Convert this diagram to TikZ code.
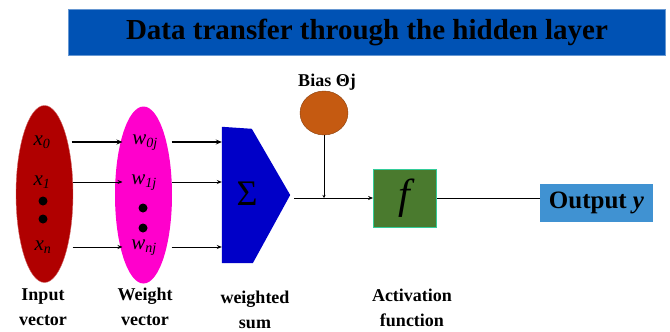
\documentclass[tikz,border=0pt]{standalone}
\usepackage{fontspec}
\setmainfont{Liberation Serif}
\usetikzlibrary{shapes.geometric,arrows.meta}
\definecolor{titleblue}{RGB}{0,82,180}
\definecolor{inred}{RGB}{176,0,0}
\definecolor{wtpink}{RGB}{255,0,204}
\definecolor{sumblue}{RGB}{0,0,200}
\definecolor{biasorange}{RGB}{197,90,17}
\definecolor{actgreen}{RGB}{74,122,46}
\definecolor{actedge}{RGB}{51,204,153}
\definecolor{outblue}{RGB}{64,146,210}
\newcommand{\sz}[1]{\fontsize{#1}{#1}\selectfont}
\newcommand{\sbs}[1]{\textsubscript{\sz{14}#1}}
\tikzset{
  caption/.style={font=\fontsize{18}{25}\selectfont\bfseries, align=center, text=black},
  vec/.style={ellipse, minimum width=57pt, minimum height=177pt, inner sep=0pt},
  entry/.style={font=\sz{21}\itshape, inner sep=0pt},
  bigdot/.style={circle, fill=black, minimum size=9pt, inner sep=0pt},
  thin arrow/.style={-{Stealth[length=5pt,width=4pt]}, line width=0.7pt},
  thick arrow/.style={-{Stealth[length=6pt,width=5pt]}, line width=2pt},
}
\begin{document}
\begin{tikzpicture}[x=1pt,y=-1pt]
\useasboundingbox (0,0) rectangle (670,332);

% title banner
\node[fill=titleblue, draw=titleblue!60!white, minimum width=597pt, minimum height=46pt, font=\sz{29}\bfseries]
  (title) at (367,32) {Data transfer through the hidden layer};

% input and weight vectors
\node[vec, fill=inred, draw=inred!60!white] (in) at (44.5,194) {};
\node[vec, fill=wtpink] (wt) at (143.5,195) {};

\node[entry] (x0) at (42,142) {x\sbs{0}};
\node[entry] (x1) at (42,182) {x\sbs{1}};
\node[bigdot] (xd1) at (43,201) {};
\node[bigdot] (xd2) at (43,219) {};
\node[entry] (xn) at (43,247) {x\sbs{n}};

\node[entry] (w0) at (145,143) {w\sbs{0j}};
\node[entry] (w1) at (144,183) {w\sbs{1j}};
\node[bigdot] (wd1) at (143,208) {};
\node[bigdot] (wd2) at (143,228) {};
\node[entry] (wn) at (144,248) {w\sbs{nj}};

% summation block
\node[minimum width=68pt, minimum height=136pt, inner sep=0pt] (sum) at (256,195) {};
\fill[sumblue] (sum.north west) -- ++(30,2) -- (sum.east) -- ([xshift=31pt]sum.south west) -- (sum.south west) -- cycle;
\node[font=\sz{36}] (sigma) at (247,194) {Σ};

% bias
\node[ellipse, fill=biasorange, draw=biasorange!70!black, line width=0.4pt, minimum width=48pt, minimum height=44pt, inner sep=0pt] (bias) at (324,113) {};
\node[font=\sz{18}\bfseries] (biaslbl) at (327,82) {Bias Θj};

% activation and output
\node[fill=actgreen, draw=actedge, line width=0.8pt, minimum width=63pt, minimum height=58pt, inner sep=0pt] (act) at (405,198) {};
\node[font=\sz{42}\itshape] (f) at (404,198) {f};
\node[fill=outblue, minimum width=113pt, minimum height=38pt, inner sep=0pt, font=\sz{25}\bfseries] (out) at (596.5,203) {Output {\itshape y}};

% connectors: input -> weight
\draw[thick arrow] ([xshift=27pt]in.center |- x0) -- ([xshift=-21pt]wt.center |- x0);
\draw[thin arrow] ([xshift=28pt]in.center |- x1) -- ([xshift=-21pt]wt.center |- x1);
\draw[thin arrow] ([xshift=28pt]in.center |- xn) -- ([xshift=-21pt]wt.center |- xn);
% weight -> sum
\draw[thick arrow] ([xshift=28pt]wt.center |- x0) -- (sum.west |- x0);
\draw[thin arrow] ([xshift=28pt]wt.center |- x1) -- (sum.west |- x1);
\draw[thin arrow] ([xshift=28pt]wt.center |- xn) -- (sum.west |- xn);

% sum -> activation, with bias joining
\coordinate (join) at (bias.south |- act.west);
\draw[thin arrow] ([xshift=4pt]sum.east |- act.west) -- (act.west);
\draw[-{Stealth[length=3pt,width=3pt]}, line width=0.7pt] (bias.south) -- (join);
\draw[line width=0.9pt] (act.east) -- (out.west |- act.east);

% captions
\node[caption] (capin) at (43,307) {Input\\vector};
\node[caption] (capwt) at (145,307) {Weight\\vector};
\node[caption] (capsum) at (255,310) {weighted\\sum};
\node[caption] (capact) at (412,308) {Activation\\function};
\end{tikzpicture}
\end{document}
